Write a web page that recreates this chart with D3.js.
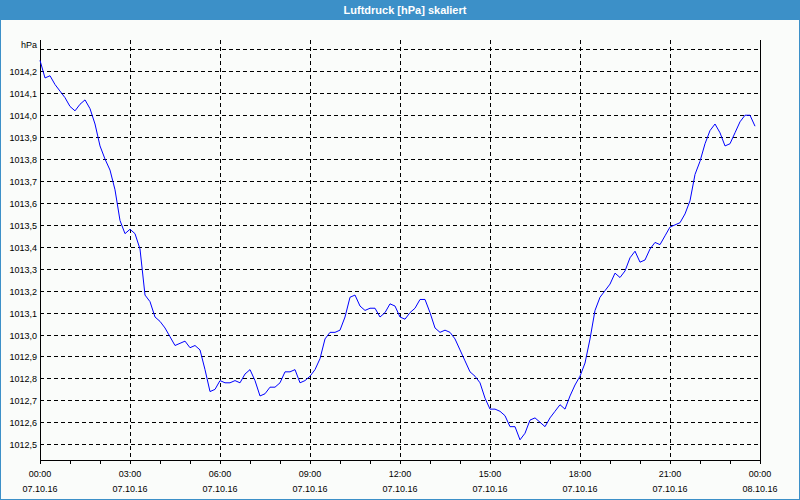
<!DOCTYPE html>
<html>
<head>
<meta charset="utf-8">
<script src="https://cdn.jsdelivr.net/npm/d3@7"></script>
<style>
  html, body { margin: 0; padding: 0; background: #fafcfa; }
  svg { display: block; }
  text { font-family: "Liberation Sans", Arial, sans-serif; }
</style>
</head>
<body>
<svg id="chart" width="800" height="500"></svg>
<script>
// ---- data ----
const title = "Luftdruck [hPa] skaliert";
const unitLabel = "hPa";
const startTime = new Date(2016, 9, 7, 0, 0);
const endTime = new Date(2016, 9, 8, 0, 0);
const intervalMinutes = 10;
const pressure = [
  1014.25, 1014.17, 1014.18, 1014.14, 1014.11, 1014.08, 1014.04, 1014.02, 1014.05, 1014.07,
  1014.03, 1013.96, 1013.86, 1013.80, 1013.75, 1013.66, 1013.52, 1013.46, 1013.48, 1013.46,
  1013.39, 1013.18, 1013.15, 1013.08, 1013.06, 1013.03, 1012.99, 1012.95, 1012.96, 1012.97,
  1012.94, 1012.95, 1012.93, 1012.84, 1012.74, 1012.75, 1012.79, 1012.78, 1012.78, 1012.79,
  1012.78, 1012.82, 1012.84, 1012.79, 1012.72, 1012.73, 1012.76, 1012.76, 1012.78, 1012.83,
  1012.83, 1012.84, 1012.78, 1012.79, 1012.81, 1012.84, 1012.89, 1012.98, 1013.01, 1013.01,
  1013.02, 1013.08, 1013.17, 1013.18, 1013.13, 1013.11, 1013.12, 1013.12, 1013.08, 1013.10,
  1013.14, 1013.13, 1013.08, 1013.07, 1013.10, 1013.12, 1013.16, 1013.16, 1013.10, 1013.03,
  1013.01, 1013.02, 1013.01, 1012.98, 1012.93, 1012.88, 1012.83, 1012.81, 1012.78, 1012.71,
  1012.66, 1012.66, 1012.65, 1012.63, 1012.58, 1012.58, 1012.52, 1012.55, 1012.61, 1012.62,
  1012.60, 1012.58, 1012.62, 1012.65, 1012.68, 1012.66, 1012.72, 1012.77, 1012.81, 1012.87,
  1012.98, 1013.11, 1013.17, 1013.20, 1013.23, 1013.28, 1013.26, 1013.29, 1013.35, 1013.38,
  1013.33, 1013.34, 1013.39, 1013.42, 1013.41, 1013.45, 1013.49, 1013.50, 1013.51, 1013.55,
  1013.61, 1013.73, 1013.79, 1013.87, 1013.93, 1013.96, 1013.92, 1013.86, 1013.87, 1013.92,
  1013.97, 1014.00, 1014.00, 1013.95
];
const yTickValues = [1012.5, 1012.6, 1012.7, 1012.8, 1012.9, 1013.0, 1013.1, 1013.2, 1013.3,
  1013.4, 1013.5, 1013.6, 1013.7, 1013.8, 1013.9, 1014.0, 1014.1, 1014.2, 1014.3];
const yTickLabels = ["1012,5", "1012,6", "1012,7", "1012,8", "1012,9", "1013,0", "1013,1", "1013,2", "1013,3",
  "1013,4", "1013,5", "1013,6", "1013,7", "1013,8", "1013,9", "1014,0", "1014,1", "1014,2", ""];
const xTimeLabels = ["00:00", "03:00", "06:00", "09:00", "12:00", "15:00", "18:00", "21:00", "00:00"];
const xDateLabels = ["07.10.16", "07.10.16", "07.10.16", "07.10.16", "07.10.16", "07.10.16", "07.10.16", "07.10.16", "08.10.16"];
const yDomain = [1012.428, 1014.343];

// ---- layout ----
const W = 800, H = 500;
const plot = { left: 40, right: 760, top: 40, bottom: 460 };
const svg = d3.select("#chart");

const x = d3.scaleTime().domain([startTime, endTime]).range([plot.left, plot.right]);
const y = d3.scaleLinear().domain(yDomain).range([plot.bottom, plot.top]);
const px = v => Math.round(v) + 0.5;

// background
svg.append("rect").attr("width", W).attr("height", H).attr("fill", "#fafcfa");
// title bar
svg.append("rect").attr("x", 0).attr("y", 0).attr("width", W).attr("height", 20).attr("fill", "#3c90c8");
svg.append("text").attr("x", 405).attr("y", 14)
  .attr("text-anchor", "middle").attr("fill", "#ffffff")
  .attr("font-size", "11px").attr("font-weight", "bold")
  .text(title);
// outer border
svg.append("rect").attr("x", 0.5).attr("y", 0.5).attr("width", W - 1).attr("height", H - 1)
  .attr("fill", "none").attr("stroke", "#3c90c8").attr("stroke-width", 1);

// horizontal grid
svg.append("g").selectAll("line").data(yTickValues).join("line")
  .attr("x1", plot.left).attr("x2", plot.right)
  .attr("y1", d => px(y(d))).attr("y2", d => px(y(d)))
  .attr("stroke", "#000").attr("stroke-dasharray", "4,3")
  .attr("shape-rendering", "crispEdges");

// vertical grid (every 3h, interior)
const majorTimes = d3.timeHour.every(3).range(startTime, d3.timeMinute.offset(endTime, 1));
svg.append("g").selectAll("line").data(majorTimes.slice(1, -1)).join("line")
  .attr("x1", d => px(x(d))).attr("x2", d => px(x(d)))
  .attr("y1", plot.top).attr("y2", plot.bottom)
  .attr("stroke", "#000").attr("stroke-dasharray", "4,3")
  .attr("shape-rendering", "crispEdges");

// frame: left, right, bottom
const frame = svg.append("g").attr("stroke", "#000").attr("shape-rendering", "crispEdges");
frame.append("line").attr("x1", plot.left + 0.5).attr("x2", plot.left + 0.5).attr("y1", plot.top).attr("y2", plot.bottom + 1);
frame.append("line").attr("x1", plot.right + 0.5).attr("x2", plot.right + 0.5).attr("y1", plot.top).attr("y2", plot.bottom + 1);
frame.append("line").attr("x1", plot.left).attr("x2", plot.right + 1).attr("y1", plot.bottom + 0.5).attr("y2", plot.bottom + 0.5);

// hourly ticks below axis
const hourTimes = d3.timeHour.every(1).range(startTime, d3.timeMinute.offset(endTime, 1));
svg.append("g").selectAll("line").data(hourTimes).join("line")
  .attr("x1", d => px(x(d))).attr("x2", d => px(x(d)))
  .attr("y1", plot.bottom).attr("y2", plot.bottom + 4)
  .attr("stroke", "#000").attr("shape-rendering", "crispEdges");

// y labels
svg.append("g").selectAll("text").data(yTickValues).join("text")
  .attr("x", 37).attr("y", d => Math.round(y(d)) + 3.5)
  .attr("text-anchor", "end").attr("font-size", "9px").attr("fill", "#000")
  .text((d, i) => yTickLabels[i]);
svg.append("text").attr("x", 37).attr("y", 48)
  .attr("text-anchor", "end").attr("font-size", "9px").attr("fill", "#000")
  .text(unitLabel);

// x labels
const xl = svg.append("g");
xl.selectAll("text.t").data(majorTimes).join("text").attr("class", "t")
  .attr("x", d => x(d)).attr("y", 477)
  .attr("text-anchor", "middle").attr("font-size", "9px").attr("fill", "#000")
  .text((d, i) => xTimeLabels[i]);
xl.selectAll("text.d").data(majorTimes).join("text").attr("class", "d")
  .attr("x", d => x(d)).attr("y", 492)
  .attr("text-anchor", "middle").attr("font-size", "9px").attr("fill", "#000")
  .text((d, i) => xDateLabels[i]);

// line
const series = pressure.map((v, i) => ({ t: d3.timeMinute.offset(startTime, i * intervalMinutes), v }));
const line = d3.line().x(d => x(d.t)).y(d => y(d.v));
svg.append("path").datum(series)
  .attr("d", line)
  .attr("fill", "none").attr("stroke", "#0000ff").attr("stroke-width", 1);
</script>
</body>
</html>
